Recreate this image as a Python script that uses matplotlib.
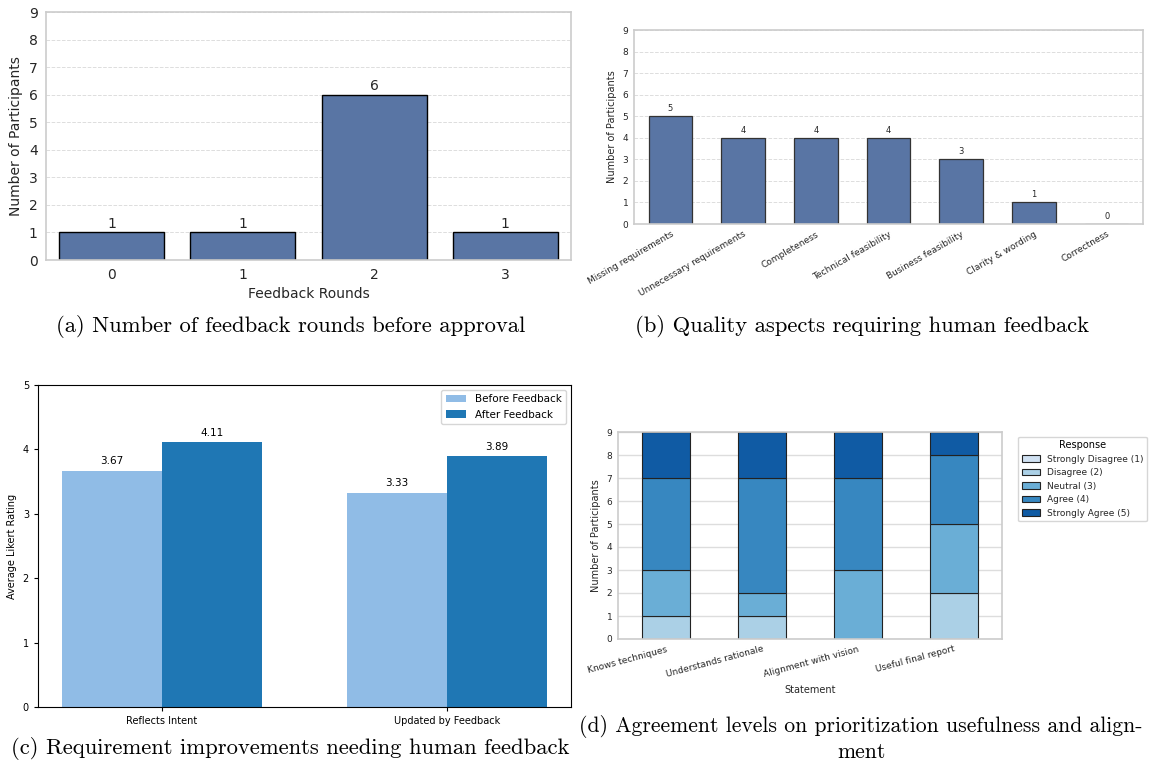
import numpy as np
import matplotlib.pyplot as plt

W, H = 1149, 765

# (a) feedback rounds
rounds = ['0', '1', '2', '3']
round_counts = [1, 1, 6, 1]

# (b) quality aspects
aspects = ['Missing requirements', 'Unnecessary requirements', 'Completeness',
           'Technical feasibility', 'Business feasibility', 'Clarity & wording',
           'Correctness']
aspect_counts = [5, 4, 4, 4, 3, 1, 0]

# (c) likert before / after
criteria = ['Reflects Intent', 'Updated by Feedback']
before_fb = [3.67, 3.33]
after_fb = [4.11, 3.89]

# (d) agreement levels
statements = ['Knows techniques', 'Understands rationale',
              'Alignment with vision', 'Useful final report']
responses = ['Strongly Disagree (1)', 'Disagree (2)', 'Neutral (3)',
             'Agree (4)', 'Strongly Agree (5)']
strongly_disagree = [0, 0, 0, 0]
disagree = [1, 1, 0, 2]
neutral = [2, 1, 3, 3]
agree = [4, 5, 4, 3]
strongly_agree = [2, 2, 2, 1]

BAR = '#5975a4'
SPINE = '#cccccc'
TXT = '#262626'
blues = ['#d0e1f2', '#abd0e6', '#6aaed6', '#3787c0', '#105ba4']


def px_axes(fig, left, top, right, bottom):
    return fig.add_axes([left / W, 1 - bottom / H, (right - left) / W, (bottom - top) / H])


def light_style(ax, size, dashed=True, pad=4):
    for s in ax.spines.values():
        s.set_color(SPINE)
        s.set_linewidth(1.2)
    ax.tick_params(length=0, labelsize=size, colors=TXT, pad=pad)
    ax.set_axisbelow(True)
    ax.yaxis.grid(True, color='#dddddd', linestyle='--' if dashed else '-',
                  linewidth=0.7 if dashed else 1.0)


fig = plt.figure(figsize=(W / 100, H / 100), dpi=100)

# ---- (a)
ax = px_axes(fig, 46, 12, 571, 260)
x = np.arange(len(rounds))
bars = ax.bar(x, round_counts, width=0.8, color=BAR, edgecolor='black', linewidth=1.0)
for b, v in zip(bars, round_counts):
    ax.text(b.get_x() + b.get_width() / 2, v + 0.05, str(v), ha='center', va='bottom',
            fontsize=10, color=TXT)
ax.set_xlim(-0.5, 3.5)
ax.set_ylim(0, 9)
ax.set_yticks(range(10))
ax.set_xticks(x)
ax.set_xticklabels(rounds)
light_style(ax, 10, pad=6)
ax.set_xlabel('Feedback Rounds', fontsize=10, color=TXT, labelpad=3)
ax.set_ylabel('Number of Participants', fontsize=10, color=TXT)

# ---- (b)
ax = px_axes(fig, 634, 30, 1143, 224)
x = np.arange(len(aspects))
bars = ax.bar(x, aspect_counts, width=0.6, color=BAR, edgecolor='#333333', linewidth=0.9)
for b, v in zip(bars, aspect_counts):
    ax.text(b.get_x() + b.get_width() / 2, v + 0.15, str(v), ha='center', va='bottom',
            fontsize=6, color=TXT)
ax.set_xlim(-0.5, len(aspects) - 0.5)
ax.set_ylim(0, 9)
ax.set_yticks(range(10))
ax.set_xticks(x)
ax.set_xticklabels(aspects, rotation=30, ha='right', rotation_mode='anchor')
light_style(ax, 6.5)
ax.set_ylabel('Number of Participants', fontsize=7, color=TXT)

# ---- (c)
ax = px_axes(fig, 38, 385, 571, 707)
x = np.arange(len(criteria))
w = 0.35
b1 = ax.bar(x - w / 2, before_fb, w, color='#90bce6', label='Before Feedback')
b2 = ax.bar(x + w / 2, after_fb, w, color='#1f77b4', label='After Feedback')
for bb in (b1, b2):
    for b in bb:
        h = b.get_height()
        ax.annotate(f'{h:.2f}', (b.get_x() + b.get_width() / 2, h), xytext=(0, 3),
                    textcoords='offset points', ha='center', va='bottom', fontsize=7.5)
ax.set_ylim(0, 5)
ax.set_xticks(x)
ax.set_xticklabels(criteria)
ax.tick_params(labelsize=7, length=3)
ax.set_ylabel('Average Likert Rating', fontsize=7)
ax.legend(fontsize=7.5, loc='upper right')

# ---- (d)
ax = px_axes(fig, 618, 432, 1002, 639)
x = np.arange(len(statements))
bottom = np.zeros(len(statements))
for name, vals, c in zip(responses,
                         [strongly_disagree, disagree, neutral, agree, strongly_agree],
                         blues):
    ax.bar(x, vals, 0.5, bottom=bottom, color=c, edgecolor='#222222', linewidth=0.8,
           label=name)
    bottom += np.array(vals)
ax.set_xlim(-0.5, len(statements) - 0.5)
ax.set_ylim(0, 9)
ax.set_yticks(range(10))
ax.set_xticks(x)
ax.set_xticklabels(statements, rotation=15, ha='right', rotation_mode='anchor')
light_style(ax, 6.5, dashed=False)
ax.set_xlabel('Statement', fontsize=7, color=TXT)
ax.set_ylabel('Number of Participants', fontsize=7, color=TXT)
leg = ax.legend(title='Response', fontsize=6.5, title_fontsize=7,
                loc='upper left', bbox_to_anchor=(1.03, 1.0), labelcolor=TXT)

# ---- captions
cap = dict(family='cmr10', fontsize=16.3, ha='center', va='center')
fig.text(291 / W, 1 - 327 / H, '(a) Number of feedback rounds before approval', **cap)
fig.text(862 / W, 1 - 327 / H, '(b) Quality aspects requiring human feedback', **cap)
fig.text(290 / W, 1 - 749 / H, '(c) Requirement improvements needing human feedback', **cap)
cap_d = dict(cap, fontsize=15.6)
fig.text(861 / W, 1 - 727 / H, '(d) Agreement levels on prioritization usefulness and align-', **cap_d)
fig.text(861 / W, 1 - 752 / H, 'ment', **cap_d)

fig.savefig('out.png', dpi=100)
